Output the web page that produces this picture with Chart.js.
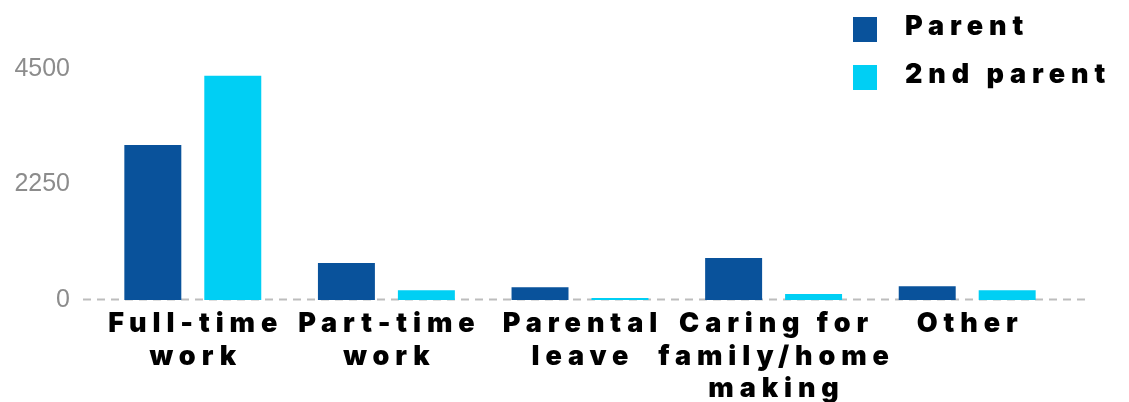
<!DOCTYPE html>
<html>
<head>
<meta charset="utf-8">
<script src="https://cdn.jsdelivr.net/npm/chart.js@4"></script>
<style>
html,body{margin:0;padding:0;background:#fff;}
#wrap{width:1129px;height:402px;position:relative;}
</style>
</head>
<body>
<div id="wrap"><canvas id="c"></canvas></div>
<script>
const categories = [['Full-time','work'],['Part-time','work'],['Parental','leave'],['Caring for','family/home','making'],['Other']];
const parentValues = [3020, 720, 250, 820, 270];
const secondParentValues = [4370, 190, 40, 115, 190];
const yTickValues = [0, 2250, 4500];
const seriesLabels = ['Parent', '2nd parent'];
const seriesColors = ['#09529b', '#00cff4'];

const FONT_FAMILY = 'Inter, "Liberation Sans", Arial, sans-serif';
const LABEL_FONT = '900 27px ' + FONT_FAMILY;
const SPACING = 5.9;

const spacingPlugin = {
  id: 'spacing',
  afterUpdate(chart) {
    const sx = chart.scales.x;
    if (sx && !sx._wrappedLS) {
      const orig = sx.drawLabels.bind(sx);
      sx.drawLabels = function(a) {
        const ctx = chart.ctx;
        ctx.save();
        ctx.letterSpacing = SPACING + 'px';
        ctx.translate(SPACING / 2, 0);
        orig(a);
        ctx.restore();
      };
      sx._wrappedLS = true;
    }
  }
};

const zeroLinePlugin = {
  id: 'zeroLine',
  beforeDatasetsDraw(chart) {
    const ctx = chart.ctx, a = chart.chartArea;
    const y = Math.round(chart.scales.y.getPixelForValue(0)) - 0.5;
    ctx.save();
    ctx.strokeStyle = '#bdbdbd';
    ctx.lineWidth = 2;
    ctx.setLineDash([8, 6]);
    ctx.beginPath();
    ctx.moveTo(a.left - 13, y);
    ctx.lineTo(a.right + 21, y);
    ctx.stroke();
    ctx.restore();
  }
};

const legendPlugin = {
  id: 'customLegend',
  afterDraw(chart) {
    const ctx = chart.ctx;
    ctx.save();
    chart.data.datasets.forEach((d, i) => {
      ctx.fillStyle = d.backgroundColor;
      ctx.fillRect(853, 17 + 48 * i, 24, 25);
      ctx.font = LABEL_FONT;
      ctx.letterSpacing = SPACING + 'px';
      ctx.fillStyle = '#000';
      ctx.textBaseline = 'alphabetic';
      ctx.textAlign = 'left';
      ctx.fillText(d.label, 905, 35 + 48 * i);
    });
    ctx.restore();
  }
};

new Chart(document.getElementById('c'), {
  type: 'bar',
  data: {
    labels: categories,
    datasets: [
      { label: seriesLabels[0], data: parentValues, backgroundColor: seriesColors[0] },
      { label: seriesLabels[1], data: secondParentValues, backgroundColor: seriesColors[1] }
    ]
  },
  options: {
    responsive: true,
    maintainAspectRatio: false,
    animation: false,
    layout: { padding: { top: 69, right: 65, left: 0, bottom: 0 } },
    datasets: { bar: { categoryPercentage: 0.826, barPercentage: 0.7125 } },
    plugins: { legend: { display: false }, tooltip: { enabled: false } },
    scales: {
      x: {
        grid: { display: false, drawTicks: false },
        border: { display: false },
        ticks: {
          autoSkip: false, maxRotation: 0, minRotation: 0, padding: 8,
          color: '#000',
          font: { family: FONT_FAMILY, size: 27, weight: '900', lineHeight: 1.2 }
        },
        afterFit(s) { s.height = 102; }
      },
      y: {
        min: 0, max: 4500,
        grid: { display: false, drawTicks: false },
        border: { display: false },
        afterBuildTicks(s) { s.ticks = yTickValues.map(v => ({ value: v })); },
        ticks: {
          padding: 26,
          color: '#8c8c8c',
          callback: (v) => String(v),
          font: { family: '"Liberation Sans", Arial, sans-serif', size: 25 }
        },
        afterFit(s) { s.width = 96; }
      }
    }
  },
  plugins: [spacingPlugin, zeroLinePlugin, legendPlugin]
});
</script>
</body>
</html>
